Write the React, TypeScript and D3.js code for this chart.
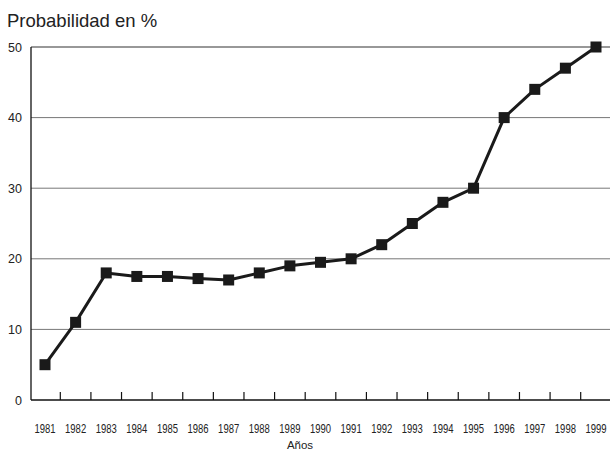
import React, { useEffect, useRef } from 'react';
import * as d3 from 'd3';

const years = [1981, 1982, 1983, 1984, 1985, 1986, 1987, 1988, 1989, 1990, 1991, 1992, 1993, 1994, 1995, 1996, 1997, 1998, 1999];
const probability = [5, 11, 18, 17.5, 17.5, 17.2, 17, 18, 19, 19.5, 20, 22, 25, 28, 30, 40, 44, 47, 50];
const yTicks = [0, 10, 20, 30, 40, 50];

const App: React.FC = () => {
    const svgRef = useRef<SVGSVGElement | null>(null);

    useEffect(() => {
        const svg = d3.select(svgRef.current);
        svg.selectAll('*').remove();

        const left = 31;
        const right = 610;
        const top = 47;
        const bottom = 400;
        const font = 'Liberation Sans, Arial, sans-serif';

        const x = d3.scalePoint<number>()
            .domain(years)
            .range([45, 596]);
        const step = x.step();

        const y = d3.scaleLinear()
            .domain([0, 50])
            .range([bottom, top]);

        // Title
        svg.append('text')
            .attr('x', 7)
            .attr('y', 27)
            .attr('font-family', font)
            .attr('font-size', 18.5)
            .attr('fill', '#222')
            .text('Probabilidad en %');

        // Gridlines
        svg.append('g')
            .selectAll('line')
            .data(yTicks.filter(t => t > 0 && t < 50))
            .enter()
            .append('line')
            .attr('x1', left)
            .attr('x2', right)
            .attr('y1', d => y(d))
            .attr('y2', d => y(d))
            .attr('stroke', '#777')
            .attr('stroke-width', 1);

        // Top line at 50
        svg.append('line')
            .attr('x1', left).attr('x2', right)
            .attr('y1', y(50)).attr('y2', y(50))
            .attr('stroke', '#333').attr('stroke-width', 1.2);

        // Y axis
        svg.append('line')
            .attr('x1', left).attr('x2', left)
            .attr('y1', top).attr('y2', bottom)
            .attr('stroke', '#111').attr('stroke-width', 1.3);

        svg.append('g')
            .selectAll('text')
            .data(yTicks)
            .enter()
            .append('text')
            .attr('x', 22)
            .attr('y', d => y(d) + 4.5)
            .attr('text-anchor', 'end')
            .attr('font-family', font)
            .attr('font-size', 12.5)
            .attr('fill', '#222')
            .text(d => d);

        // X axis line
        svg.append('line')
            .attr('x1', left).attr('x2', right)
            .attr('y1', bottom).attr('y2', bottom)
            .attr('stroke', '#111').attr('stroke-width', 1.5);

        // Ticks between years
        svg.append('g')
            .selectAll('line')
            .data(years.slice(0, -1))
            .enter()
            .append('line')
            .attr('x1', d => (x(d) ?? 0) + step / 2)
            .attr('x2', d => (x(d) ?? 0) + step / 2)
            .attr('y1', bottom)
            .attr('y2', bottom - 8)
            .attr('stroke', '#111')
            .attr('stroke-width', 1.2);

        // Year labels (condensed look)
        svg.append('g')
            .selectAll('text')
            .data(years)
            .enter()
            .append('text')
            .attr('transform', d => `translate(${x(d) ?? 0},433) scale(0.76,1)`)
            .attr('text-anchor', 'middle')
            .attr('font-family', font)
            .attr('font-size', 12.5)
            .attr('fill', '#222')
            .text(d => d);

        svg.append('text')
            .attr('x', 300)
            .attr('y', 449)
            .attr('text-anchor', 'middle')
            .attr('font-family', font)
            .attr('font-size', 11.5)
            .attr('fill', '#222')
            .text('Años');

        // Line
        const line = d3.line<number>()
            .x((_, i) => x(years[i]) ?? 0)
            .y(d => y(d));

        svg.append('path')
            .datum(probability)
            .attr('fill', 'none')
            .attr('stroke', '#1a1a1a')
            .attr('stroke-width', 3)
            .attr('stroke-linejoin', 'round')
            .attr('d', line);

        // Markers
        const size = 11;
        svg.append('g')
            .selectAll('rect')
            .data(probability)
            .enter()
            .append('rect')
            .attr('x', (_, i) => (x(years[i]) ?? 0) - size / 2)
            .attr('y', d => y(d) - size / 2)
            .attr('width', size)
            .attr('height', size)
            .attr('fill', '#1a1a1a');
    }, []);

    return (
        <svg ref={svgRef} width={610} height={453}
            style={{ position: 'absolute', left: 0, top: 0, background: '#fff' }} />
    );
};

export default App;
